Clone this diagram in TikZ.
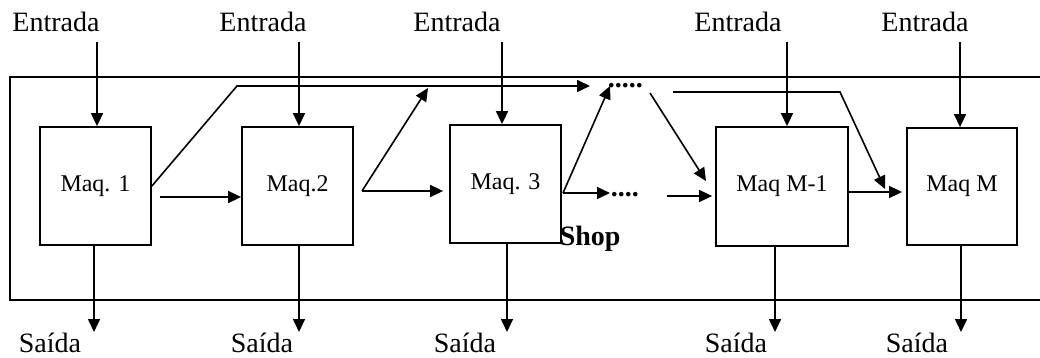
\documentclass[tikz,border=0pt]{standalone}
\usepackage{fontspec}
\setmainfont{Liberation Serif}
\usetikzlibrary{arrows.meta,calc}
\begin{document}
\begin{tikzpicture}[x=1pt,y=-1pt,
  line width=1.6pt,
  arr/.style={-{Triangle[length=13pt,width=12pt]}},
  maq/.style={draw, line width=1.8pt, minimum width=111pt, minimum height=118pt, inner sep=0pt, font=\fontsize{24}{26}\selectfont},
  lbl/.style={inner sep=0pt, font=\fontsize{28}{30}\selectfont},
  dotsty/.style={inner sep=0pt, font=\fontsize{28}{30}\selectfont\bfseries}]
\useasboundingbox (0,0) rectangle (1040,358);

% frame
\draw (1040,77) -- (10,77) -- (10,300) -- (1040,300);

% machines
\node[maq] (m1) at (95.5,186) {Maq. 1};
\node[maq] (m2) at (297.5,186) {Maq.2};
\node[maq] (m3) at (505.5,184) {Maq. 3};
\node[maq, minimum width=132pt, minimum height=119pt] (m4) at (782,186.5) {Maq M-1};
\node[maq, minimum width=110pt, minimum height=117pt] (m5) at (962,186.5) {Maq M};

% inputs
\foreach \n/\x/\lx in {1/97/56, 2/299/263, 3/502/457, 4/787/738, 5/960/925} {
  \node[lbl, anchor=base] (e\n) at (\lx,32) {Entrada};
  \coordinate (i\n) at (\x,42);
  \draw[arr] (i\n) -- (i\n |- m\n.north);
}
% outputs
\foreach \n/\x/\lx in {1/94/50, 2/299/262, 3/507/465, 4/775/736, 5/961/917} {
  \node[lbl, anchor=base] (s\n) at (\lx,352) {Saída};
  \coordinate (o\n) at (\x,332);
  \draw[arr] (m\n.south -| o\n) -- (o\n);
}

% dots
\node[dotsty, anchor=base west] (dT) at (607,88) {.....};
\node[dotsty, anchor=base west] (dB) at (610,196) {....};
\node[lbl, font=\fontsize{28}{30}\selectfont\bfseries, anchor=base west] (shop) at (559,245) {Shop};

% bus 1
\coordinate (b1) at (237,86);
\coordinate (b1e) at (590,86);
\draw[arr] (m1.east) -- (b1) -- (b1e);

% M1 -> M2
\coordinate (h1) at (160,197);
\draw[arr] (h1) -- (h1 -| m2.west);

% M2
\coordinate (h2) at (362,191);
\coordinate (u2) at (428,88);
\draw[arr, shorten >=6pt] (h2) -- (h2 -| m3.west);
\draw[arr] (h2) -- (u2);

% M3
\coordinate (h3) at (563,193);
\coordinate (u3) at (610,86);
\draw[arr] (h3) -- (h3 -| dB.west);
\draw[arr] (h3) -- (u3);

% down to M-1
\coordinate (d1) at (650,93);
\coordinate (t4) at (706,181);
\draw[arr] (d1) -- (t4);
\coordinate (h4) at (667,196);
\draw[arr, shorten >=3pt] (h4) -- (h4 -| m4.west);

% bus 2
\coordinate (b2) at (673,92);
\coordinate (b2e) at (840,92);
\coordinate (t5) at (885,189);
\draw[arr] (b2) -- (b2e) -- (t5);

% M-1 -> M
\coordinate (h5) at (850,192);
\draw[arr, shorten >=4pt] (m4.east |- h5) -- (h5 -| m5.west);
\end{tikzpicture}
\end{document}
